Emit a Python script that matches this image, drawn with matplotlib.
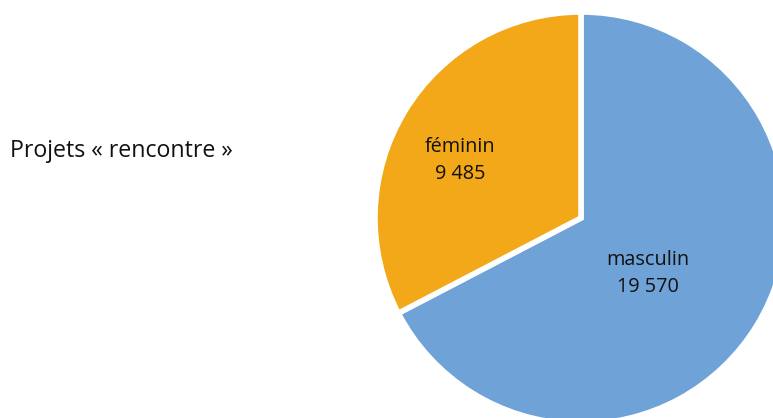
import matplotlib.pyplot as plt

plt.rcParams['font.family'] = ['Open Sans', 'DejaVu Sans']

# données
categories = ['masculin', 'féminin']
valeurs = [19570, 9485]
couleurs = ['#6FA3D8', '#F2A818']
titre = 'Projets « rencontre »'

W, H = 773, 418
cx, cy, r = 581, 218, 206  # centre et rayon du camembert en pixels

fig = plt.figure(figsize=(W / 100, H / 100), dpi=100)
ax = fig.add_axes([0, 0, 1, 1])
ax.pie(valeurs, colors=couleurs, startangle=90, counterclock=False,
       radius=1, wedgeprops=dict(edgecolor='white', linewidth=4))
ax.set_xlim(-cx / r, (W - cx) / r)
ax.set_ylim(-(H - cy) / r, cy / r)
ax.set_aspect('equal')
ax.axis('off')

def etiquette(nom, val):
    return f"{nom}\n{val:,}".replace(',', ' ')

# positions des étiquettes (pixels -> coordonnées du camembert)
pos = {'féminin': (460, 160.5), 'masculin': (648, 273.5)}
for nom, val in zip(categories, valeurs):
    px, py = pos[nom]
    ax.text((px - cx) / r, (cy - py) / r, etiquette(nom, val),
            ha='center', va='center', fontsize=14.3, linespacing=1.5,
            color='#111111')

fig.text(10 / W, 1 - 151 / H, titre, ha='left', va='center',
         fontsize=16.7, color='#111111')

fig.savefig('out.png', dpi=100)
